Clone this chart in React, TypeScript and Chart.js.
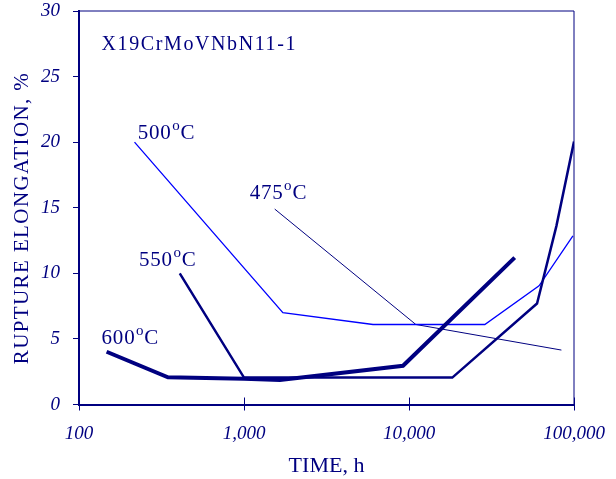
import React, { useEffect, useRef } from "react";
import { Chart, registerables } from "chart.js";

Chart.register(...registerables);

// Series data: rupture time (h) and rupture elongation (%)
const t600 = [147, 346, 1000, 1650, 9200, 43700];
const e600 = [4.02, 2.07, 1.97, 1.87, 2.95, 11.2];

const t550 = [408, 1000, 18300, 59700, 78200, 100000];
const e550 = [10.0, 2.05, 2.05, 7.7, 13.6, 20.05];

const t500 = [217, 1720, 6050, 28800, 61400, 98500];
const e500 = [20.0, 7.0, 6.1, 6.1, 9.05, 12.85];

const t475 = [1535, 11000, 83900];
const e475 = [14.9, 6.1, 4.15];

const xTicks = [100, 1000, 10000, 100000];

// Annotation labels (data coordinates of left/baseline)
const labelTexts = ["500", "475", "550", "600"];
const labelX = [227, 1083, 231, 137];
const labelY = [20.27, 15.7, 10.55, 4.61];

const chartTitle = "X19CrMoVNbN11-1";
const titleX = 137;
const titleY = 27.0;

const xTitle = "TIME, h";
const yTitle = "RUPTURE ELONGATION, %";

const NAVY = "#000080";
const SERIF = "'Liberation Serif', 'Times New Roman', serif";

const toPts = (xs: number[], ys: number[]) => xs.map((x, i) => ({ x, y: ys[i] }));

const decorPlugin = {
  id: "decor",
  afterDraw(chart: any) {
    const { ctx, chartArea, scales } = chart;
    const xs = scales.x;
    const ys = scales.y;
    ctx.save();
    // top & right border
    ctx.strokeStyle = NAVY;
    ctx.lineWidth = 1;
    ctx.beginPath();
    ctx.moveTo(chartArea.left, Math.round(chartArea.top));
    ctx.lineTo(Math.round(chartArea.right), Math.round(chartArea.top));
    ctx.lineTo(Math.round(chartArea.right), chartArea.bottom);
    ctx.stroke();
    // inner part of x ticks
    ctx.lineWidth = 1;
    xTicks.forEach((v) => {
      const px = Math.round(xs.getPixelForValue(v)) + 0.5;
      ctx.beginPath();
      ctx.moveTo(px, chartArea.bottom);
      ctx.lineTo(px, chartArea.bottom - 7);
      ctx.stroke();
    });
    // chart title
    ctx.fillStyle = NAVY;
    ctx.textBaseline = "alphabetic";
    ctx.textAlign = "left";
    ctx.font = `20px ${SERIF}`;
    ctx.letterSpacing = "1.6px";
    ctx.fillText(chartTitle, xs.getPixelForValue(titleX), ys.getPixelForValue(titleY));
    // series labels with superscript degree "o"
    ctx.letterSpacing = "0.8px";
    labelTexts.forEach((t, i) => {
      const x0 = xs.getPixelForValue(labelX[i]);
      const y0 = ys.getPixelForValue(labelY[i]);
      ctx.font = `21px ${SERIF}`;
      ctx.fillText(t, x0, y0);
      let w = ctx.measureText(t).width;
      ctx.font = `15px ${SERIF}`;
      ctx.fillText("o", x0 + w + 0.5, y0 - 9);
      w += ctx.measureText("o").width + 0.5;
      ctx.font = `21px ${SERIF}`;
      ctx.fillText("C", x0 + w, y0);
    });
    // y axis title
    ctx.font = `21px ${SERIF}`;
    ctx.letterSpacing = "1.4px";
    ctx.textAlign = "center";
    ctx.textBaseline = "middle";
    ctx.translate(22, 218);
    ctx.rotate(-Math.PI / 2);
    ctx.fillText(yTitle, 0, 0);
    ctx.restore();
  },
};

export default function App() {
  const ref = useRef<HTMLCanvasElement | null>(null);

  useEffect(() => {
    document.body.style.margin = "0";
    const canvas = ref.current;
    if (!canvas) return;
    const chart = new Chart(canvas, {
      type: "line",
      data: {
        datasets: [
          {
            label: "600°C",
            data: toPts(t600, e600),
            borderColor: NAVY,
            borderWidth: 4,
            pointRadius: 0,
          },
          {
            label: "550°C",
            data: toPts(t550, e550),
            borderColor: NAVY,
            borderWidth: 2.5,
            pointRadius: 0,
          },
          {
            label: "500°C",
            data: toPts(t500, e500),
            borderColor: "#0000ff",
            borderWidth: 1.3,
            pointRadius: 0,
          },
          {
            label: "475°C",
            data: toPts(t475, e475),
            borderColor: NAVY,
            borderWidth: 1,
            pointRadius: 0,
          },
        ],
      },
      options: {
        responsive: false,
        devicePixelRatio: 1,
        animation: false,
        layout: { padding: { top: 11, right: 42, left: 0, bottom: 0 } },
        plugins: {
          legend: { display: false },
          tooltip: { enabled: false },
          title: { display: false },
        },
        scales: {
          x: {
            type: "logarithmic",
            min: 100,
            max: 100000,
            afterBuildTicks: (scale: any) => {
              scale.ticks = xTicks.map((v) => ({ value: v }));
            },
            afterFit: (scale: any) => {
              scale.height = 74.5;
              scale.paddingLeft = 0;
              scale.paddingRight = 0;
            },
            ticks: {
              autoSkip: false,
              maxRotation: 0,
              padding: 12,
              color: NAVY,
              font: { family: SERIF, size: 19, style: "italic" },
              callback: (v: any) => Number(v).toLocaleString("en-US"),
            },
            grid: {
              drawOnChartArea: false,
              drawTicks: true,
              tickLength: 6,
              color: NAVY,
              lineWidth: 1,
            },
            border: { color: NAVY, width: 2 },
            title: {
              display: true,
              text: xTitle,
              color: NAVY,
              font: { family: SERIF, size: 22 },
              padding: { top: 4, bottom: 0 },
            },
          },
          y: {
            type: "linear",
            min: 0,
            max: 30,
            afterFit: (scale: any) => {
              scale.width = 79;
              scale.paddingTop = 0;
              scale.paddingBottom = 0;
            },
            ticks: {
              stepSize: 5,
              padding: 13,
              color: NAVY,
              font: { family: SERIF, size: 19, style: "italic" },
            },
            grid: {
              drawOnChartArea: false,
              drawTicks: true,
              tickLength: 6,
              color: NAVY,
              lineWidth: 1,
            },
            border: { color: NAVY, width: 2 },
          },
        },
      },
      plugins: [decorPlugin],
    } as any);
    return () => chart.destroy();
  }, []);

  return (
    <div style={{ width: 616, height: 479, background: "#fff" }}>
      <canvas ref={ref} width={616} height={479} />
    </div>
  );
}
